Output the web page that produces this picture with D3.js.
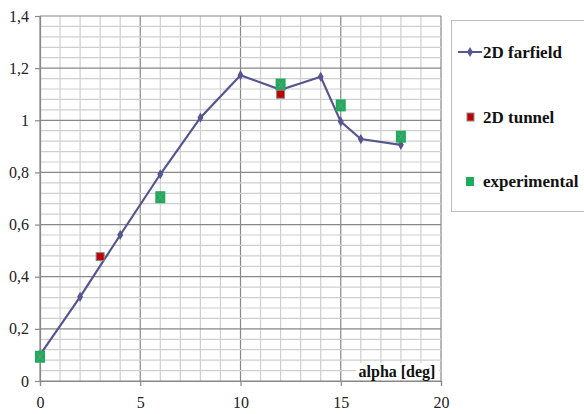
<!DOCTYPE html>
<html>
<head>
<meta charset="utf-8">
<script src="https://cdn.jsdelivr.net/npm/d3@7"></script>
<style>
  body { margin: 0; background: #fff; }
  svg { display: block; }
</style>
</head>
<body>
<figure id="chart" style="margin:0"></figure>
<script>
// data
const farfieldAlpha = [0, 2, 4, 6, 8, 10, 12, 14, 15, 16, 18];
const farfieldCl = [0.1, 0.323, 0.56, 0.793, 1.01, 1.173, 1.117, 1.167, 0.995, 0.928, 0.906];
const tunnelAlpha = [3, 12];
const tunnelCl = [0.477, 1.1];
const expAlpha = [0, 6, 12, 15, 18];
const expCl = [0.093, 0.705, 1.137, 1.057, 0.937];
const xTicks = [0, 5, 10, 15, 20];
const yTicks = [0, 0.2, 0.4, 0.6, 0.8, 1, 1.2, 1.4];
const seriesNames = ["2D farfield", "2D tunnel", "experimental"];

const W = 584, H = 414;
const plotL = 40, plotR = 441, plotT = 16, plotB = 381;
const serif = '"Liberation Serif", "Times New Roman", "DejaVu Serif", serif';

const svg = d3.select("#chart").append("svg")
  .attr("width", W).attr("height", H);

const x = d3.scaleLinear().domain([0, 20]).range([plotL, plotR]);
const y = d3.scaleLinear().domain([0, 1.4]).range([plotB, plotT]);

// grid: light every 1 / 0.04, darker every 5 / 0.2
const grid = svg.append("g");
grid.selectAll("line.vx")
  .data(d3.range(0, 21, 1))
  .enter().append("line")
  .attr("x1", d => x(d)).attr("x2", d => x(d))
  .attr("y1", plotT).attr("y2", plotB)
  .attr("stroke", d => d % 5 === 0 ? "#888" : "#cfcfcf")
  .attr("stroke-width", 1.2);
grid.selectAll("line.hy")
  .data(d3.range(0, 36, 1).map(i => i * 0.04))
  .enter().append("line")
  .attr("x1", plotL).attr("x2", plotR)
  .attr("y1", d => y(d)).attr("y2", d => y(d))
  .attr("stroke", (d, i) => i % 5 === 0 ? "#888" : "#cfcfcf")
  .attr("stroke-width", 1.2);

// axes
const fmt = d => d3.format(".1f")(d).replace(/\.0$/, "").replace(".", ",");
const yAxis = svg.append("g")
  .attr("transform", "translate(" + plotL + ",0)")
  .call(d3.axisLeft(y).tickValues(yTicks).tickFormat(fmt).tickSize(5).tickPadding(6));
const xAxis = svg.append("g")
  .attr("transform", "translate(0," + plotB + ")")
  .call(d3.axisBottom(x).tickValues(xTicks).tickFormat(d3.format("d")).tickSize(5).tickPadding(11));
[yAxis, xAxis].forEach(a => {
  a.attr("font-family", serif).attr("font-size", 16);
  a.select(".domain").attr("stroke", "#888").attr("stroke-width", 1.2);
  a.selectAll(".tick line").attr("stroke", "#888").attr("stroke-width", 1.2);
  a.selectAll("text").attr("fill", "#222");
});

// x axis title in a white box
svg.append("rect")
  .attr("x", 356).attr("y", 363).attr("width", 83).attr("height", 17)
  .attr("fill", "#fff");
svg.append("text")
  .attr("x", 397).attr("y", 377)
  .attr("text-anchor", "middle")
  .attr("font-family", serif)
  .attr("font-weight", "bold")
  .attr("font-size", 16)
  .attr("fill", "#111")
  .text("alpha [deg]");

// farfield line
const farfield = farfieldAlpha.map((a, i) => [a, farfieldCl[i]]);
const lineColor = "#55568f";
svg.append("path")
  .datum(farfield)
  .attr("fill", "none")
  .attr("stroke", lineColor)
  .attr("stroke-width", 2.2)
  .attr("d", d3.line().x(d => x(d[0])).y(d => y(d[1])));
svg.append("g").selectAll("path")
  .data(farfield)
  .enter().append("path")
  .attr("transform", d => "translate(" + x(d[0]) + "," + y(d[1]) + ")")
  .attr("d", d3.symbol(d3.symbolDiamond, 30))
  .attr("fill", lineColor);

// experimental markers
const expData = expAlpha.map((a, i) => [a, expCl[i]]);
const expG = svg.append("g").selectAll("g")
  .data(expData)
  .enter().append("g")
  .attr("transform", d => "translate(" + x(d[0]) + "," + y(d[1]) + ")");
expG.append("rect")
  .attr("x", -5).attr("y", -6).attr("width", 10).attr("height", 12)
  .attr("fill", "#1faa5c");
expG.append("path")
  .attr("d", "M-3,-4L3,4M3,-4L-3,4")
  .attr("stroke", "#7a9a8a").attr("stroke-width", 0.8);

// tunnel markers
const tunnelData = tunnelAlpha.map((a, i) => [a, tunnelCl[i]]);
svg.append("g").selectAll("rect")
  .data(tunnelData)
  .enter().append("rect")
  .attr("x", d => x(d[0]) - 4).attr("y", d => y(d[1]) - 4)
  .attr("width", 8).attr("height", 8)
  .attr("fill", "#c00000")
  .attr("stroke", "#8a8a8a").attr("stroke-width", 1);

// legend
const legend = svg.append("g");
legend.append("rect")
  .attr("x", 451.5).attr("y", 20.5).attr("width", 150).attr("height", 191)
  .attr("fill", "#fff").attr("stroke", "#bdbdbd");
const ly = [52, 117, 181];
legend.selectAll("text")
  .data(seriesNames)
  .enter().append("text")
  .attr("x", 483).attr("y", (d, i) => ly[i] + 6)
  .attr("font-family", serif)
  .attr("font-weight", "bold")
  .attr("font-size", 17)
  .attr("fill", "#111")
  .text(d => d);
legend.append("line")
  .attr("x1", 458).attr("x2", 482).attr("y1", ly[0]).attr("y2", ly[0])
  .attr("stroke", lineColor).attr("stroke-width", 2);
legend.append("path")
  .attr("transform", "translate(470," + ly[0] + ")")
  .attr("d", d3.symbol(d3.symbolDiamond, 30))
  .attr("fill", lineColor);
legend.append("rect")
  .attr("x", 467).attr("y", ly[1] - 4).attr("width", 7).attr("height", 8)
  .attr("fill", "#c00000").attr("stroke", "#8a8a8a");
legend.append("rect")
  .attr("x", 466).attr("y", ly[2] - 4).attr("width", 8).attr("height", 9)
  .attr("fill", "#1faa5c");
</script>
</body>
</html>
